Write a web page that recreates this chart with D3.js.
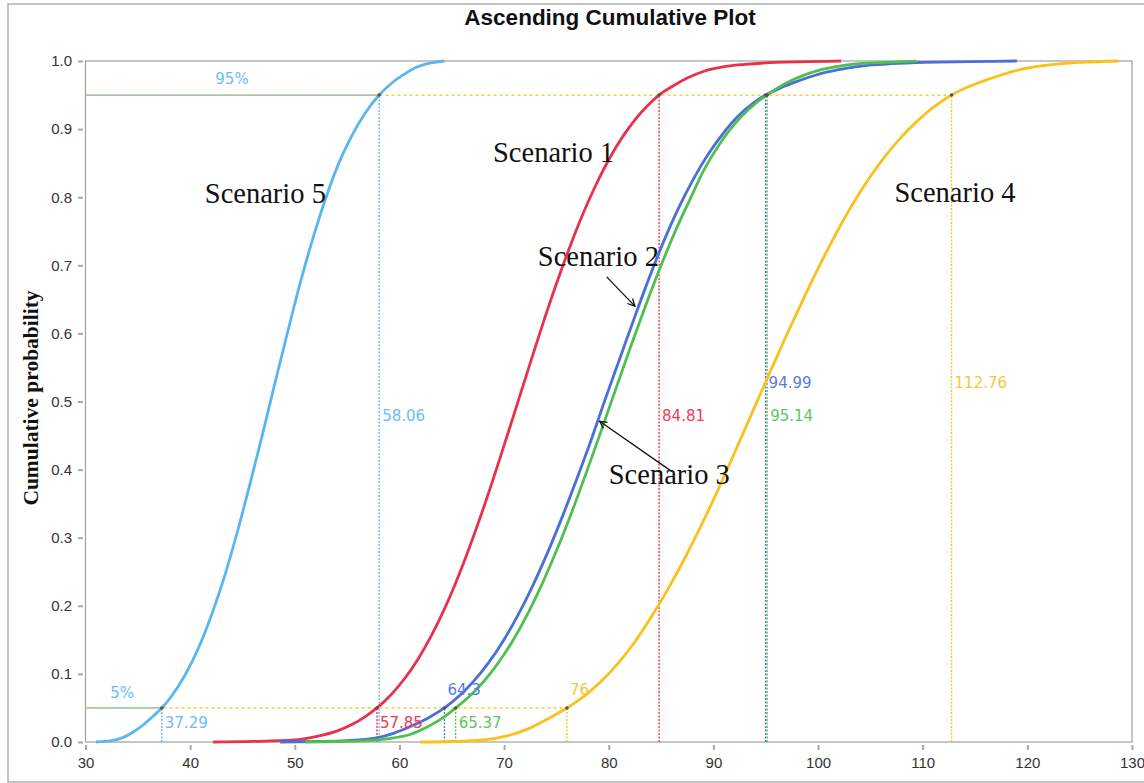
<!DOCTYPE html>
<html lang="en">
<head>
<meta charset="UTF-8">
<title>Ascending Cumulative Plot</title>
<script src="https://d3js.org/d3.v7.min.js"></script>
<style>
    body { margin: 0; background: #fff; }
    svg { display: block; }
    .tick text { font-family: "Liberation Sans", Arial, sans-serif; font-size: 15px; fill: #333; }
    .tick line { stroke: #a8a8a8; stroke-width: 2px; }
    .val { font-family: "DejaVu Sans", sans-serif; font-size: 15px; }
    .scen { font-family: "Liberation Serif", "Times New Roman", serif; font-size: 28.5px; fill: #111; }
</style>
</head>
<body>
<div id="chart"></div>
<script>
    // cumulative curves: [value, probability]
    const scenario1 = [[42.2,0],[46,0.0008],[50,0.003],[52,0.008],[54,0.016],[55.5,0.026],[56.7,0.037],[57.85,0.05],
        [59.2,0.0694],[60.5,0.0932],[61.8,0.1224],[63.1,0.1577],[64.4,0.1988],[65.7,0.246],[67.0,0.2987],[68.3,0.3557],
        [69.6,0.4164],[70.9,0.479],[72.2,0.542],[73.5,0.6045],[74.8,0.664],[76.1,0.7197],[77.4,0.7706],[78.7,0.8157],
        [80.0,0.855],[81.3,0.8882],[82.6,0.9155],[83.7,0.9344],[84.81,0.95],[86.1,0.963],[87.5,0.975],[89.1,0.985],
        [90.8,0.991],[93,0.995],[96,0.998],[99,0.999],[102.2,1.0]];
    const scenario2 = [[48.6,0],[52,0.0007],[55,0.002],[57.8,0.006],[59.5,0.013],[61.1,0.023],[62.7,0.035],[64.3,0.05],
        [65.7,0.0675],[67.1,0.0894],[68.5,0.1161],[69.9,0.1481],[71.3,0.1856],[72.7,0.2283],[74.1,0.2762],[75.5,0.3284],
        [76.9,0.3843],[78.3,0.4427],[79.7,0.505],[81.1,0.565],[82.5,0.625],[83.9,0.683],[85.3,0.737],[86.7,0.785],
        [88.1,0.827],[89.5,0.863],[90.9,0.893],[92.3,0.918],[93.7,0.937],[94.99,0.95],[96.5,0.961],[98,0.97],[99.5,0.978],
        [100.9,0.984],[102.6,0.989],[104.3,0.993],[107,0.996],[110.2,0.998],[114.5,0.999],[119,1.0]];
    const scenario3 = [[51,0],[54,0.0007],[57,0.002],[59,0.005],[61,0.011],[62.5,0.021],[64,0.034],[65.37,0.05],
        [66.7,0.0671],[68.1,0.0896],[69.5,0.1174],[70.9,0.1506],[72.3,0.1897],[73.7,0.2345],[75.1,0.2844],[76.5,0.339],
        [77.9,0.3974],[79.3,0.458],[80.7,0.5196],[82.1,0.5808],[83.5,0.64],[84.9,0.696],[86.3,0.748],[87.7,0.7947],
        [89.1,0.84],[90.5,0.876],[91.9,0.905],[93.3,0.928],[94.2,0.94],[95.14,0.95],[96.3,0.962],[97.55,0.972],[99,0.981],
        [100.5,0.988],[102.2,0.993],[103.9,0.996],[106.5,0.998],[109.4,1.0]];
    const scenario4 = [[62,0],[65,0.0007],[68,0.003],[70.3,0.009],[72.4,0.02],[74.3,0.035],[76.0,0.05],[77.6,0.0665],
        [79.2,0.088],[80.8,0.114],[82.4,0.145],[84.0,0.182],[85.6,0.223],[87.2,0.268],[88.8,0.317],[90.4,0.369],[92.0,0.424],
        [93.6,0.48],[95.2,0.536],[96.8,0.591],[98.4,0.644],[100.0,0.695],[101.6,0.743],[103.2,0.787],[104.8,0.826],
        [106.4,0.86],[108.0,0.889],[109.6,0.9135],[111.2,0.934],[112.76,0.95],[114.2,0.961],[115.7,0.97],[117.2,0.978],
        [118.7,0.985],[120.5,0.991],[122.5,0.995],[125,0.998],[128.7,1.0]];
    const scenario5 = [[31.0,0],[32.5,0.002],[33.5,0.006],[34.5,0.014],[35.5,0.025],[36.4,0.037],[37.29,0.05],
        [38.2,0.0668],[39.5,0.098],[40.8,0.138],[42.1,0.189],[43.3,0.244],[44.5,0.308],[45.7,0.378],[46.9,0.451],
        [48.1,0.527],[49.3,0.601],[50.5,0.673],[51.7,0.738],[52.9,0.796],[54.1,0.846],[55.4,0.889],[56.7,0.923],
        [58.06,0.95],[59.3,0.968],[60.5,0.981],[61.5,0.99],[62.4,0.995],[63.3,0.998],[64.3,1.0]];

    const scenarioNames = ["Scenario 1", "Scenario 2", "Scenario 3", "Scenario 4", "Scenario 5"];
    const seriesValues = [scenario1, scenario2, scenario3, scenario4, scenario5];
    const pct5 = [57.85, 64.3, 65.37, 76, 37.29];
    const pct95 = [84.81, 94.99, 95.14, 112.76, 58.06];
    const pct5Labels = ["57.85", "64.3", "65.37", "76", "37.29"];
    const pct95Labels = ["84.81", "94.99", "95.14", "112.76", "58.06"];
    const xTicks = [30, 40, 50, 60, 70, 80, 90, 100, 110, 120, 130];
    const yTicks = [0, 0.1, 0.2, 0.3, 0.4, 0.5, 0.6, 0.7, 0.8, 0.9, 1.0];

    const colors = ["#e8314b", "#4a6fd8", "#4fbf4f", "#fbc01c", "#58b6f2"];
    const labelColors = ["#ee3a56", "#5b78dd", "#5cc75c", "#fcc43a", "#6cbdf5"];

    const width = 1144, height = 783;
    const plot = { left: 85.5, right: 1132, top: 61, bottom: 742 };

    const svg = d3.select("#chart").append("svg")
        .attr("width", width).attr("height", height);

    // outer frame
    svg.append("rect").attr("x", 8).attr("y", 4).attr("width", 1150).attr("height", 778)
        .attr("fill", "none").attr("stroke", "#b0b0b0").attr("stroke-width", 1.5);

    const x = d3.scaleLinear().domain([30, 130]).range([plot.left, plot.right]);
    const y = d3.scaleLinear().domain([0, 1]).range([plot.bottom, plot.top]);

    svg.append("rect").attr("x", plot.left).attr("y", plot.top)
        .attr("width", plot.right - plot.left).attr("height", plot.bottom - plot.top)
        .attr("fill", "none").attr("stroke", "#a0a0a0").attr("stroke-width", 1.2);

    // axes
    svg.append("g").attr("transform", `translate(${plot.left - 2.5},0)`)
        .call(d3.axisLeft(y).tickValues(yTicks).tickFormat(d3.format(".1f")).tickSize(5).tickPadding(6))
        .call(g => g.select(".domain").remove());
    svg.append("g").attr("transform", `translate(0,${plot.bottom + 3})`)
        .call(d3.axisBottom(x).tickValues(xTicks).tickSize(5).tickPadding(7))
        .call(g => g.select(".domain").remove());

    // title and axis label
    svg.append("text").attr("x", 610).attr("y", 25).attr("text-anchor", "middle")
        .style("font-family", "'Liberation Sans', Arial, sans-serif").style("font-weight", "bold")
        .style("font-size", "22.5px").attr("fill", "#111").text("Ascending Cumulative Plot");
    svg.append("text").attr("transform", "translate(38,398) rotate(-90)").attr("text-anchor", "middle")
        .style("font-family", "'Liberation Serif', 'Times New Roman', serif").style("font-weight", "bold")
        .style("font-size", "21.5px").attr("fill", "#111").text("Cumulative probability");

    // reference lines at 5% and 95%; the widest horizontal (scenario 4) covers the others
    const ref = svg.append("g");
    [[0.05, pct5], [0.95, pct95]].forEach(([p, vals]) => {
        ref.append("line").attr("x1", x(30)).attr("x2", x(vals[4])).attr("y1", y(p)).attr("y2", y(p))
            .attr("stroke", colors[4]).attr("stroke-width", 1.2);
        ref.append("line").attr("x1", x(30)).attr("x2", x(vals[3])).attr("y1", y(p)).attr("y2", y(p))
            .attr("stroke", colors[3]).attr("stroke-width", 1.2).attr("stroke-dasharray", "3,3");
        [4, 0, 1, 2, 3].forEach(i => {
            ref.append("line").attr("x1", x(vals[i])).attr("x2", x(vals[i])).attr("y1", y(0)).attr("y2", y(p))
                .attr("stroke", colors[i]).attr("stroke-width", 1.3).attr("stroke-dasharray", "2,1.5");
        });
    });

    // curves
    const line = d3.line().x(d => x(d[0])).y(d => y(d[1])).curve(d3.curveMonotoneX);
    seriesValues.forEach((s, i) => {
        svg.append("path").datum(s).attr("d", line)
            .attr("fill", "none").attr("stroke", colors[i]).attr("stroke-width", 2.8)
            .attr("stroke-linejoin", "round");
    });

    // crossing points
    seriesValues.forEach((s, i) => {
        [[pct5[i], 0.05], [pct95[i], 0.95]].forEach(([v, p]) => {
            svg.append("circle").attr("cx", x(v)).attr("cy", y(p)).attr("r", 1.8).attr("fill", "#555");
        });
    });

    // value labels: bottom ones sit under/over the 5% line, middle ones near 0.5
    const low = [0.02, 0.069, 0.02, 0.069, 0.02];
    const mid = [0.471, 0.52, 0.471, 0.52, 0.471];
    seriesValues.forEach((s, i) => {
        svg.append("text").attr("class", "val").attr("x", x(pct5[i]) + 3).attr("y", y(low[i]))
            .attr("fill", labelColors[i]).text(pct5Labels[i]);
        svg.append("text").attr("class", "val").attr("x", x(pct95[i]) + 3).attr("y", y(mid[i]))
            .attr("fill", labelColors[i]).text(pct95Labels[i]);
    });
    svg.append("text").attr("class", "val").attr("x", x(44)).attr("y", y(0.966)).attr("text-anchor", "middle")
        .attr("fill", labelColors[4]).text("95%");
    svg.append("text").attr("class", "val").attr("x", x(33.5)).attr("y", y(0.0646)).attr("text-anchor", "middle")
        .attr("fill", labelColors[4]).text("5%");

    // scenario names, placed in data coordinates
    const namePos = [[68.94, 0.852], [73.22, 0.699], [80.0, 0.379], [107.3, 0.793], [41.4, 0.792]];
    scenarioNames.forEach((n, i) => {
        svg.append("text").attr("class", "scen").attr("x", x(namePos[i][0])).attr("y", y(namePos[i][1])).text(n);
    });

    // arrows for scenario 2 and 3
    svg.append("defs").append("marker").attr("id", "arr").attr("viewBox", "0 0 10 10")
        .attr("refX", 9).attr("refY", 5).attr("markerWidth", 9).attr("markerHeight", 9)
        .attr("orient", "auto-start-reverse").attr("markerUnits", "userSpaceOnUse")
        .append("path").attr("d", "M1,1 L9,5 L1,9").attr("fill", "none").attr("stroke", "#111").attr("stroke-width", 1.4);
    const arrows = [[[79.8, 0.683], [82.5, 0.64]], [[86.04, 0.397], [79.13, 0.471]]];
    arrows.forEach(([a, b]) => {
        svg.append("line").attr("x1", x(a[0])).attr("y1", y(a[1])).attr("x2", x(b[0])).attr("y2", y(b[1]))
            .attr("stroke", "#111").attr("stroke-width", 1.3).attr("marker-end", "url(#arr)");
    });
</script>
</body>
</html>
